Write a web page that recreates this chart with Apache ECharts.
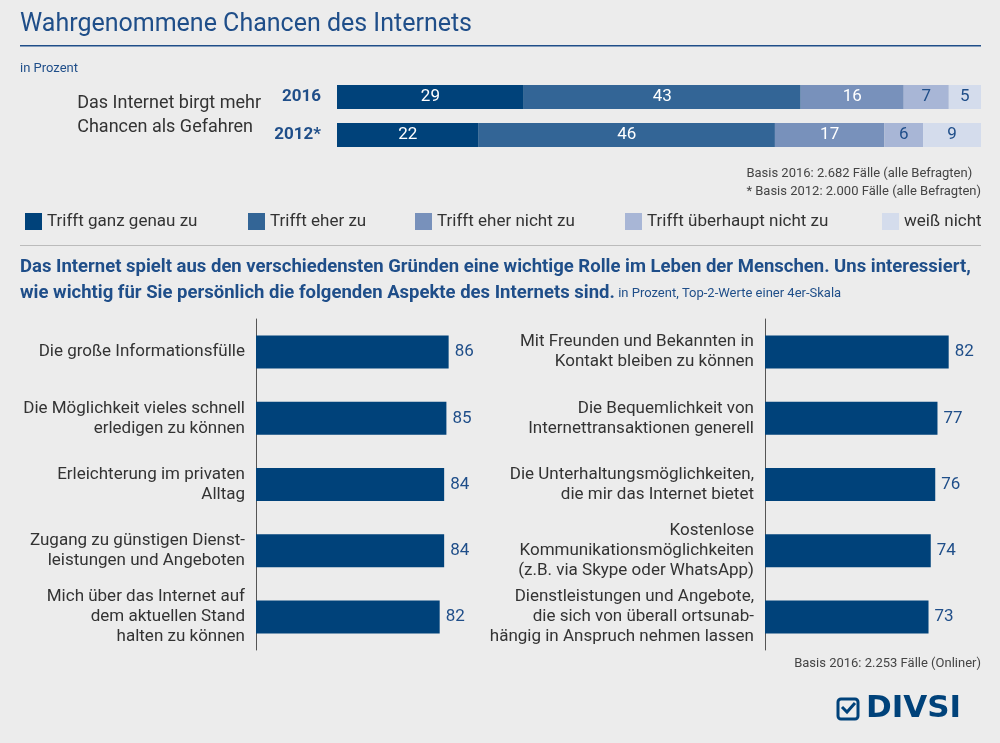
<!DOCTYPE html>
<html><head><meta charset="utf-8">
<script src="https://cdn.jsdelivr.net/npm/echarts@6/dist/echarts.min.js"></script>
<style>html,body{margin:0;background:#ececec}#c{width:1000px;height:743px}</style>
</head><body><div id="c"></div>
<script>
const years = ['2016', '2012*'];
const segNames = ['Trifft ganz genau zu', 'Trifft eher zu', 'Trifft eher nicht zu', 'Trifft überhaupt nicht zu', 'weiß nicht'];
const segValues = [[29, 22], [43, 46], [16, 17], [7, 6], [5, 9]];
const segColors = ['#00427a', '#336596', '#7891bb', '#a8b6d6', '#d4dcec'];
const segLabelColors = ['#ffffff', '#ffffff', '#ffffff', '#1f4e89', '#1f4e89'];
const leftCats = ['Die große Informationsfülle', 'Die Möglichkeit vieles schnell\nerledigen zu können', 'Erleichterung im privaten\nAlltag', 'Zugang zu günstigen Dienst-\nleistungen und Angeboten', 'Mich über das Internet auf\ndem aktuellen Stand\nhalten zu können'];
const leftVals = [86, 85, 84, 84, 82];
const rightCats = ['Mit Freunden und Bekannten in\nKontakt bleiben zu können', 'Die Bequemlichkeit von\nInternettransaktionen generell', 'Die Unterhaltungsmöglichkeiten,\ndie mir das Internet bietet', 'Kostenlose\nKommunikationsmöglichkeiten\n(z.B. via Skype oder WhatsApp)', 'Dienstleistungen und Angebote,\ndie sich von überall ortsunab-\nhängig in Anspruch nehmen lassen'];
const rightVals = [82, 77, 76, 74, 73];

const F = '"Liberation Sans Narrow", "Roboto", sans-serif';
const navy = '#00427a', tblue = '#1f4e89';
const chart = echarts.init(document.getElementById('c'));
const legendX = [20, 243, 410, 620, 877];
const opt = {
  backgroundColor: '#ececec',
  textStyle: {fontFamily: F},
  grid: [
    {left: 337, top: 78, width: 644, height: 76},
    {left: 256, top: 319, width: 224, height: 331},
    {left: 765, top: 319, width: 224, height: 331}
  ],
  xAxis: [
    {gridIndex: 0, type: 'value', min: 0, max: 100, show: false},
    {gridIndex: 1, type: 'value', min: 0, max: 100, show: false},
    {gridIndex: 2, type: 'value', min: 0, max: 100, show: false}
  ],
  yAxis: [
    {gridIndex: 0, type: 'category', data: years, inverse: true, axisLine: {show: false}, axisTick: {show: false},
     axisLabel: {fontFamily: F, fontSize: 17, fontWeight: 'bold', color: tblue, margin: 16}},
    {gridIndex: 1, type: 'category', data: leftCats, inverse: true, axisTick: {show: false},
     axisLine: {lineStyle: {color: '#555', width: 1}},
     axisLabel: {fontFamily: F, fontSize: 17, color: '#333', margin: 11, lineHeight: 20, align: 'right'}},
    {gridIndex: 2, type: 'category', data: rightCats, inverse: true, axisTick: {show: false},
     axisLine: {lineStyle: {color: '#555', width: 1}},
     axisLabel: {fontFamily: F, fontSize: 17, color: '#333', margin: 11, lineHeight: 20, align: 'right'}}
  ],
  legend: segNames.map((n, i) => ({
    data: [n], left: legendX[i], top: 208, itemWidth: 17, itemHeight: 17, icon: 'rect', itemGap: 6,
    textStyle: {fontFamily: F, fontSize: 17, color: '#333'}
  })),
  series: [
    ...segNames.map((n, i) => ({
      name: n, type: 'bar', stack: 'a', xAxisIndex: 0, yAxisIndex: 0, barWidth: 24,
      data: segValues[i], itemStyle: {color: segColors[i]},
      label: {show: true, position: 'inside', color: segLabelColors[i], fontFamily: F, fontSize: 17}
    })),
    {type: 'bar', xAxisIndex: 1, yAxisIndex: 1, barWidth: 33, data: leftVals, itemStyle: {color: navy},
     label: {show: true, position: 'right', distance: 6, color: tblue, fontFamily: F, fontSize: 17}},
    {type: 'bar', xAxisIndex: 2, yAxisIndex: 2, barWidth: 33, data: rightVals, itemStyle: {color: navy},
     label: {show: true, position: 'right', distance: 6, color: tblue, fontFamily: F, fontSize: 17}}
  ],
  graphic: [
    {type: 'text', left: 20, top: 12, style: {text: 'Wahrgenommene Chancen des Internets', font: '25px ' + F, fill: tblue}},
    {type: 'rect', shape: {x: 20, y: 45, width: 961, height: 1.5}, style: {fill: tblue}},
    {type: 'text', left: 20, top: 62, style: {text: 'in Prozent', font: '13px ' + F, fill: tblue}},
    {type: 'text', right: 739, top: 91, style: {text: 'Das Internet birgt mehr\nChancen als Gefahren', font: '18px ' + F, fill: '#333', align: 'right', lineHeight: 24}},
    {type: 'text', right: 19, top: 165, style: {text: 'Basis 2016: 2.682 Fälle (alle Befragten)\n* Basis 2012: 2.000 Fälle (alle Befragten)', font: '13px ' + F, fill: '#444', align: 'right', lineHeight: 18}},
    {type: 'rect', shape: {x: 20, y: 245, width: 961, height: 1}, style: {fill: '#bbb'}},
    {type: 'text', left: 20, top: 258, style: {
      text: '{b|Das Internet spielt aus den verschiedensten Gründen eine wichtige Rolle im Leben der Menschen. Uns interessiert,}\n{b|wie wichtig für Sie persönlich die folgenden Aspekte des Internets sind.} {s|in Prozent, Top-2-Werte einer 4er-Skala}',
      rich: {b: {font: 'bold 18.5px ' + F, fill: tblue, lineHeight: 26}, s: {font: '13px ' + F, fill: tblue, lineHeight: 26}}}},
    {type: 'text', right: 19, top: 657, style: {text: 'Basis 2016: 2.253 Fälle (Onliner)', font: '13px ' + F, fill: '#444', align: 'right'}},
    {type: 'rect', shape: {x: 838, y: 699, width: 20, height: 20, r: 3}, style: {fill: 'none', stroke: navy, lineWidth: 3}},
    {type: 'polyline', shape: {points: [[842, 707], [847, 712], [855, 703]]}, style: {stroke: navy, lineWidth: 3, fill: 'none'}},
    {type: 'text', left: 866, top: 693, style: {text: 'DIVSI', font: 'bold 31px "DejaVu Sans", sans-serif', fill: navy}}
  ]
};
chart.setOption(opt);
</script></body></html>
